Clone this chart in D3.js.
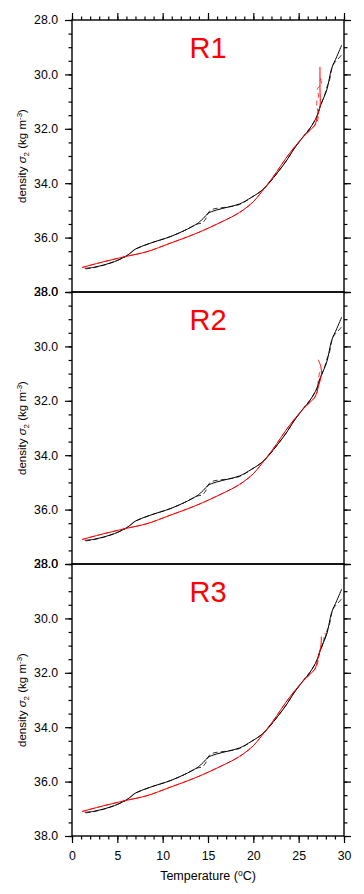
<!DOCTYPE html>
<html>
<head>
<meta charset="utf-8">
<script src="https://cdn.jsdelivr.net/npm/d3@7"></script>
<style>
html,body{margin:0;padding:0;background:#fff;}
svg{display:block;font-family:"Liberation Sans",Arial,Helvetica,sans-serif;}
</style>
</head>
<body>
<svg id="chart" width="364" height="894"></svg>
<script>
// ---------------- data ----------------
const panelNames = ["R1", "R2", "R3"];
const xDomain = [0, 30];
const yDomain = [28, 38];
const xMajorTicks = [0, 5, 10, 15, 20, 25, 30];
const yMajorTicks = [28, 30, 32, 34, 36, 38];

// black solid (same in every panel)
const blackSolidT = [1.4, 2.3, 3.45, 4.7, 5.85, 6.4, 6.95, 8.6, 10.8, 12.4, 13.75, 14.1, 14.5, 15.0, 15.9, 17.2, 18.5, 19.8, 21.1, 22.6, 23.7, 24.4, 25.5, 26.25, 27.0, 27.35, 28.1, 28.64, 29.2, 29.75];
const blackSolidS = [37.13, 37.10, 37.01, 36.88, 36.70, 36.58, 36.43, 36.21, 35.97, 35.74, 35.50, 35.41, 35.29, 35.11, 34.99, 34.88, 34.76, 34.52, 34.22, 33.64, 33.15, 32.78, 32.29, 31.98, 31.55, 31.19, 30.57, 29.78, 29.35, 28.92];

// black dashed (same in every panel)
const blackDashT = [1.5, 2.3, 3.45, 4.7, 5.85, 6.4, 6.95, 8.6, 10.8, 12.4, 13.75, 14.4, 14.8, 15.1, 15.5, 16.5, 17.5, 18.5, 19.8, 21.1, 22.6, 23.7, 24.4, 25.5, 26.25, 27.0, 27.35, 27.9, 28.2, 28.35, 28.8, 29.3, 29.75];
const blackDashS = [37.15, 37.11, 37.02, 36.88, 36.71, 36.58, 36.44, 36.21, 35.97, 35.74, 35.51, 35.45, 35.28, 35.05, 34.96, 34.90, 34.86, 34.78, 34.52, 34.22, 33.64, 33.15, 32.78, 32.29, 31.98, 31.55, 31.20, 30.72, 30.38, 30.28, 29.65, 29.45, 29.28];

// red lines: common lower part
const redBaseT = [1.1, 3.0, 5.85, 8.24, 10.81, 13.75, 16.32, 18.0, 18.9, 20.0, 21.1, 22.2, 24.0, 25.5, 26.3, 26.8];
const redBaseS = [37.10, 36.93, 36.70, 36.52, 36.21, 35.84, 35.45, 35.17, 34.98, 34.68, 34.24, 33.76, 32.90, 32.30, 32.04, 31.86];

// red tails (differ per panel)
const redSolidTailT = [
  [27.05, 27.35, 27.35, 27.35],
  [27.2, 27.5, 27.45, 27.17],
  [27.1, 27.43, 27.5]
];
const redSolidTailS = [
  [31.55, 31.19, 30.5, 29.72],
  [31.45, 31.04, 30.75, 30.49],
  [31.5, 31.07, 30.67]
];
const redDashTailT = [
  [27.15, 27.0, 27.2, 27.05, 27.5, 27.35],
  [27.0, 27.15, 27.3],
  [27.0, 27.3, 27.7, 27.9, 28.0, 28.2]
];
const redDashTailS = [
  [31.6, 31.0, 30.8, 30.55, 30.35, 30.1],
  [31.75, 31.3, 30.95],
  [31.75, 31.3, 30.9, 30.55, 30.6, 30.48]
];

// ---------------- layout ----------------
const svg = d3.select("#chart");
const left = 72, right = 344;
const panelTop = [20, 292, 564];
const panelH = 272;
const FONT = "Liberation Sans, Arial, sans-serif";

const x = d3.scaleLinear().domain(xDomain).range([left, right]);

function zip(T, S) { return T.map((t, i) => [t, S[i]]); }

panelNames.forEach((name, p) => {
  const top = panelTop[p];
  const y = d3.scaleLinear().domain(yDomain).range([top, top + panelH]);
  const g = svg.append("g");

  const line = d3.line().x(d => x(d[0])).y(d => y(d[1])).curve(d3.curveCatmullRom.alpha(0.5));

  const redSolid = zip(redBaseT.concat(redSolidTailT[p]), redBaseS.concat(redSolidTailS[p]));
  const redDash = zip(redBaseT.concat(redDashTailT[p]), redBaseS.concat(redDashTailS[p]));

  g.append("path").datum(redDash).attr("d", line)
    .attr("fill", "none").attr("stroke", "#ff0000").attr("stroke-width", 0.8)
    .attr("stroke-dasharray", "5,3");
  g.append("path").datum(zip(blackDashT, blackDashS)).attr("d", line)
    .attr("fill", "none").attr("stroke", "#000").attr("stroke-width", 0.8)
    .attr("stroke-dasharray", "5,3");
  g.append("path").datum(zip(blackSolidT, blackSolidS)).attr("d", line)
    .attr("fill", "none").attr("stroke", "#000").attr("stroke-width", 1.0);
  g.append("path").datum(redSolid).attr("d", line)
    .attr("fill", "none").attr("stroke", "#ff0000").attr("stroke-width", 1.0);

  // Left axis
  const yMinor = d3.range(28, 38.01, 0.5);
  const ax = g.append("g").attr("transform", `translate(${left},0)`);
  ax.call(d3.axisLeft(y).tickValues(yMinor).tickSize(3.5).tickFormat(""));
  ax.append("g").call(d3.axisLeft(y).tickValues(yMajorTicks).tickSize(7).tickPadding(7).tickFormat(d3.format(".1f")));
  ax.selectAll(".domain").remove();
  ax.selectAll("line").attr("stroke", "#000").attr("stroke-width", 1.2);
  ax.selectAll("text").attr("font-size", 12.3).attr("fill", "#000").attr("font-family", FONT);

  // Right axis
  const ar = g.append("g").attr("transform", `translate(${right},0)`);
  ar.call(d3.axisRight(y).tickValues(yMinor).tickSize(3.5).tickFormat(""));
  ar.append("g").call(d3.axisRight(y).tickValues(yMajorTicks).tickSize(7).tickFormat(""));
  ar.selectAll(".domain").remove();
  ar.selectAll("line").attr("stroke", "#000").attr("stroke-width", 1.2);

  const xMinor = d3.range(0, 30.01, 1);
  if (p === 0) {
    const at = g.append("g").attr("transform", `translate(0,${top})`);
    at.call(d3.axisTop(x).tickValues(xMinor).tickSize(3.5).tickFormat(""));
    at.append("g").call(d3.axisTop(x).tickValues(xMajorTicks).tickSize(7).tickFormat(""));
    at.selectAll(".domain").remove();
    at.selectAll("line").attr("stroke", "#000").attr("stroke-width", 1.2);
  }
  if (p === 2) {
    const ab = g.append("g").attr("transform", `translate(0,${top + panelH})`);
    ab.call(d3.axisBottom(x).tickValues(xMinor).tickSize(3.5).tickFormat(""));
    ab.append("g").call(d3.axisBottom(x).tickValues(xMajorTicks).tickSize(7).tickPadding(8).tickFormat(d3.format("d")));
    ab.selectAll(".domain").remove();
    ab.selectAll("line").attr("stroke", "#000").attr("stroke-width", 1.2);
    ab.selectAll("text").attr("font-size", 12.3).attr("fill", "#000").attr("font-family", FONT);
  }

  // Frame
  g.append("rect").attr("x", left).attr("y", top).attr("width", right - left).attr("height", panelH)
    .attr("fill", "none").attr("stroke", "#000").attr("stroke-width", 1.4);

  // Panel title
  g.append("text").attr("x", (left + right) / 2).attr("y", top + 38)
    .attr("text-anchor", "middle").attr("fill", "#ff0000").attr("font-size", 29)
    .text(name);

  // Y axis title
  const yt = g.append("text")
    .attr("transform", `translate(26,${top + panelH / 2}) rotate(-90)`)
    .attr("text-anchor", "middle").attr("font-size", 11.5).attr("fill", "#000");
  yt.append("tspan").text("density ");
  yt.append("tspan").attr("font-style", "italic").text("σ");
  yt.append("tspan").attr("font-size", 8).attr("dy", 3).text("2");
  yt.append("tspan").attr("dy", -3).text(" (kg m");
  yt.append("tspan").attr("font-size", 8).attr("dy", -4.5).text("-3");
  yt.append("tspan").attr("dy", 4.5).text(")");
});

// X axis title
const xt = svg.append("text").attr("x", (left + right) / 2).attr("y", 880)
  .attr("text-anchor", "middle").attr("font-size", 12.5).attr("fill", "#000");
xt.append("tspan").text("Temperature (");
xt.append("tspan").attr("font-size", 8.5).attr("dy", -4.5).text("o");
xt.append("tspan").attr("dy", 4.5).text("C)");
</script>
</body>
</html>
